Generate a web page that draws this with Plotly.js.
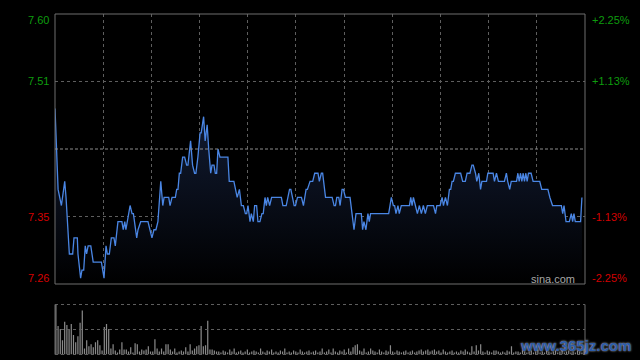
<!DOCTYPE html>
<html>
<head>
<meta charset="utf-8">
<script src="https://cdn.plot.ly/plotly-3.0.1.min.js"></script>
<style>html,body{margin:0;padding:0;background:#000;}#chart{width:640px;height:360px;}</style>
</head>
<body>
<div id="chart"></div>
<script>
// ---- data ----
const prevClose = 7.43;
const pctLevels = [-0.0225, -0.01125, 0.01125, 0.0225];
const leftLabels = ["7.26", "7.35", "7.51", "7.60"];
const rightLabels = ["-2.25%", "-1.13%", "+1.13%", "+2.25%"];

const minutes = [0,1.4,2.9,4.4,5,6.5,8,8.6,10.1,10.4,11.6,12.2,13,13.7,14.3,15,16.2,17.3,21,21.7,22.2,23.1,23.7,24.6,25.5,26.7,27.3,28.5,30.3,30.9,31.6,32.1,34,34.9,35.5,37,37.6,38.8,42.1,43,43.9,44.8,45.7,46.6,47.9,48.8,49.4,51.5,52.1,53,54.5,55.1,55.7,56.3,56.9,57.8,58.7,59.6,60.2,61.4,62.3,63.2,63.8,64.7,65.7,66.2,67.3,68,68.9,69.6,70.5,71.1,72,72.6,73.2,73.8,74.7,78.3,78.9,81,82.5,83.5,84.4,85.3,86.2,86.8,87.4,88.3,88.9,89.8,90.4,91.3,91.9,92.8,93.7,94.3,95.1,95.7,96.3,97.2,98.1,102.5,103.2,104.7,106.2,106.8,108.3,108.9,109.8,111.6,112.5,113.7,114.3,115.5,116.7,117.6,119.1,119.7,120.6,121.2,122.5,125.5,126.4,127,127.6,128.5,129.1,130,130.6,131.5,133.6,134.5,135.4,136.3,138.7,139.3,139.9,140.8,141.7,142.3,142.9,151.1,152.3,153.2,153.8,154.4,155.3,155.9,156.8,160.5,161.1,161.7,162.3,163.2,164.1,165,165.9,166.8,167.7,168.6,171.4,172.3,172.9,174.4,175.3,175.9,176.8,177.7,178.6,179.2,179.8,180.4,181.3,183.7,184.6,185.8,186.6,187.9,188.8,189.4,190.4,191,191.9,192.7,193.3,195.4,196,198.4,199,199.9,200.8,203.5,204.4,205,205.9,206.6,209,209.6,210.2,210.8,211.4,212,212.6,213.2,213.8,214.4,215.6,216.5,219.5,220.4,223.2,224.1,225.3,229.3,229.9,230.5,231.4,232.9,233.8,234.4,235,235.6,238,238.6];
const prices = [7.48,7.38,7.36,7.39,7.37,7.30,7.30,7.32,7.32,7.30,7.27,7.28,7.28,7.31,7.30,7.31,7.31,7.29,7.29,7.28,7.27,7.31,7.30,7.30,7.32,7.32,7.31,7.34,7.34,7.33,7.34,7.33,7.36,7.35,7.35,7.32,7.33,7.34,7.34,7.33,7.32,7.33,7.33,7.34,7.39,7.36,7.37,7.37,7.36,7.37,7.37,7.38,7.38,7.40,7.40,7.42,7.42,7.41,7.41,7.44,7.41,7.40,7.40,7.42,7.45,7.45,7.47,7.44,7.46,7.43,7.40,7.41,7.41,7.40,7.40,7.43,7.42,7.42,7.39,7.39,7.37,7.38,7.36,7.36,7.35,7.35,7.36,7.34,7.35,7.34,7.36,7.36,7.34,7.34,7.35,7.35,7.37,7.36,7.37,7.36,7.37,7.37,7.36,7.36,7.38,7.38,7.36,7.36,7.37,7.37,7.36,7.38,7.38,7.39,7.39,7.40,7.40,7.39,7.40,7.40,7.37,7.37,7.36,7.36,7.37,7.37,7.36,7.38,7.38,7.37,7.37,7.35,7.33,7.35,7.35,7.33,7.34,7.33,7.35,7.34,7.35,7.35,7.37,7.36,7.36,7.35,7.36,7.35,7.36,7.36,7.37,7.36,7.37,7.36,7.35,7.36,7.35,7.36,7.35,7.36,7.36,7.35,7.36,7.36,7.37,7.36,7.37,7.36,7.38,7.38,7.39,7.39,7.40,7.40,7.39,7.39,7.40,7.40,7.41,7.41,7.40,7.39,7.40,7.38,7.39,7.39,7.40,7.40,7.39,7.40,7.39,7.39,7.40,7.39,7.38,7.39,7.39,7.40,7.39,7.40,7.39,7.40,7.39,7.40,7.39,7.40,7.40,7.39,7.39,7.38,7.38,7.37,7.36,7.36,7.35,7.36,7.34,7.34,7.35,7.34,7.35,7.34,7.34,7.37];

const volumes = [49,28,25,14,32,29,25,30,19,12,18,31,43,6,14,8,10,7,12,14,9,4,27,30,25,6,10,4,2,5,12,5,5,3,7,2,11,10,3,5,4,5,8,3,3,15,6,3,6,3,10,10,5,3,6,2,3,4,3,7,3,10,4,6,8,9,28,8,9,33,5,5,4,3,
3,2,4,3,2,5,3,6,2,3,4,2,3,5,2,3,4,3,2,6,3,2,4,3,5,2,3,2,4,3,6,2,3,2,4,3,2,5,3,2,3,4,2,3,4,2,
3,6,2,3,5,2,6,3,2,4,3,5,2,6,3,7,9,10,4,3,6,2,3,6,4,3,2,5,3,2,4,3,9,3,2,4,3,2,3,4,2,3,4,2,3,4,
5,3,4,5,3,4,5,3,4,2,5,3,2,3,4,2,3,2,4,3,5,3,2,8,3,9,4,10,3,2,4,3,2,4,4,3,2,3,2,4,3,8,2,3,
3,2,4,3,2,3,4,2,3,5,2,3,2,4,3,2,3,4,2,3,5,2,3,4,2,3,2,4,3,2,6];
const volMinutes = volumes.map((v, i) => i);

// ---- layout helpers ----
const W = 640, H = 360;
const pxL = 55, pxR = 585, pTop = 14, pBot = 284, vTop = 304.5, vBot = 354.5;
const levels = pctLevels.map(p => prevClose * (1 + p));
const yLo = prevClose * (1 - 0.0225), yHi = prevClose * (1 + 0.0225);
const vGrid = []; for (let k = 1; k <= 10; k++) vGrid.push(240 * k / 11);
const volMax = Math.max(...volumes);
const font = 'Liberation Sans, Arial, sans-serif';
const green = '#0e9c0e', red = '#d40000';

const traces = [
  {x: minutes, y: prices, type: 'scatter', mode: 'lines', xaxis: 'x', yaxis: 'y',
   line: {color: '#4a86e4', width: 1.3}, fill: 'tozeroy',
   fillgradient: {type: 'vertical', start: yLo, stop: 7.48,
     colorscale: [[0, 'rgba(0,0,0,1)'], [1, 'rgba(18,28,52,1)']]},
   hoverinfo: 'skip'},
  {x: volMinutes, y: volumes, type: 'bar', xaxis: 'x2', yaxis: 'y2',
   marker: {color: '#8a8a8a', line: {width: 0}}, hoverinfo: 'skip'}
];

const fx = v => v / W, fy = v => 1 - v / H;
const gridC = '#5e5e5e', frameC = '#6e6e6e';

const shapes = [
  {type: 'rect', xref: 'paper', yref: 'paper', x0: fx(pxL), x1: fx(pxR), y0: fy(pBot), y1: fy(pTop), line: {color: frameC, width: 1}},
  {type: 'line', xref: 'x', yref: 'y', x0: 0, x1: 240, y0: prevClose, y1: prevClose, line: {color: '#8c8c8c', width: 1, dash: '3px,2px'}},
  {type: 'line', xref: 'paper', yref: 'paper', x0: fx(pxL), x1: fx(pxL), y0: fy(vBot), y1: fy(vTop), line: {color: frameC, width: 1}},
  {type: 'line', xref: 'paper', yref: 'paper', x0: fx(pxR), x1: fx(pxR), y0: fy(vBot), y1: fy(vTop), line: {color: frameC, width: 1}},
  {type: 'line', xref: 'paper', yref: 'paper', x0: fx(pxL), x1: fx(pxR), y0: fy(vTop), y1: fy(vTop), line: {color: gridC, width: 1, dash: 'dot'}},
  {type: 'line', xref: 'paper', yref: 'paper', x0: fx(pxL), x1: fx(pxR), y0: fy((vTop + vBot) / 2), y1: fy((vTop + vBot) / 2), line: {color: gridC, width: 1, dash: 'dot'}},
  {type: 'line', xref: 'paper', yref: 'paper', x0: fx(pxL), x1: fx(pxR), y0: fy(vBot), y1: fy(vBot), line: {color: gridC, width: 1, dash: 'dot'}}
];

const annotations = [];
levels.forEach((lv, i) => {
  const c = pctLevels[i] > 0 ? green : red;
  const shift = Math.abs(pctLevels[i]) > 0.02 ? (pctLevels[i] > 0 ? -6 : 6) : 0;
  annotations.push({xref: 'paper', yref: 'y', x: fx(pxL - 4), y: lv, yshift: shift, text: leftLabels[i], showarrow: false, xanchor: 'right', yanchor: 'middle', font: {family: font, size: 11, color: c}});
  annotations.push({xref: 'paper', yref: 'y', x: fx(pxR + 5), y: lv, yshift: shift, text: rightLabels[i], showarrow: false, xanchor: 'left', yanchor: 'middle', font: {family: font, size: 11, color: c}});
});
annotations.push({xref: 'paper', yref: 'paper', x: fx(552.5), y: fy(279), text: 'sina.com', showarrow: false, xanchor: 'center', yanchor: 'middle', font: {family: font, size: 11, color: '#a8a8a8'}});
annotations.push({xref: 'paper', yref: 'paper', x: fx(575), y: fy(345), text: 'www.365jz.com', showarrow: false, xanchor: 'center', yanchor: 'middle', font: {family: font, size: 15, color: '#2c5caa', weight: 'bold', shadow: '0px 0px 2px #d8d8d8'}});

const layout = {
  width: W, height: H, margin: {l: 0, r: 0, t: 0, b: 0},
  paper_bgcolor: '#000', plot_bgcolor: '#000', showlegend: false, bargap: 0.45,
  xaxis: {domain: [fx(pxL), fx(pxR)], range: [0, 240], tickvals: vGrid, showgrid: true, gridcolor: gridC, griddash: 'dot', gridwidth: 1,
          showticklabels: false, ticks: '', zeroline: false, showline: false, fixedrange: true},
  yaxis: {domain: [fy(pBot), fy(pTop)], range: [yLo, yHi], tickvals: [levels[1], levels[2]], showgrid: true, gridcolor: gridC, griddash: 'dot', gridwidth: 1,
          showticklabels: false, ticks: '', zeroline: false, showline: false, fixedrange: true},
  xaxis2: {anchor: 'y2', domain: [fx(pxL), fx(pxR)], range: [-0.4, 240.4], showgrid: false, showticklabels: false, ticks: '', zeroline: false, showline: false},
  yaxis2: {anchor: 'x2', domain: [fy(vBot), fy(vTop)], range: [0, volMax], showgrid: false, showticklabels: false, ticks: '', zeroline: false, showline: false},
  shapes: shapes, annotations: annotations
};

Plotly.newPlot('chart', traces, layout, {displayModeBar: false, staticPlot: true});
</script>
</body>
</html>
